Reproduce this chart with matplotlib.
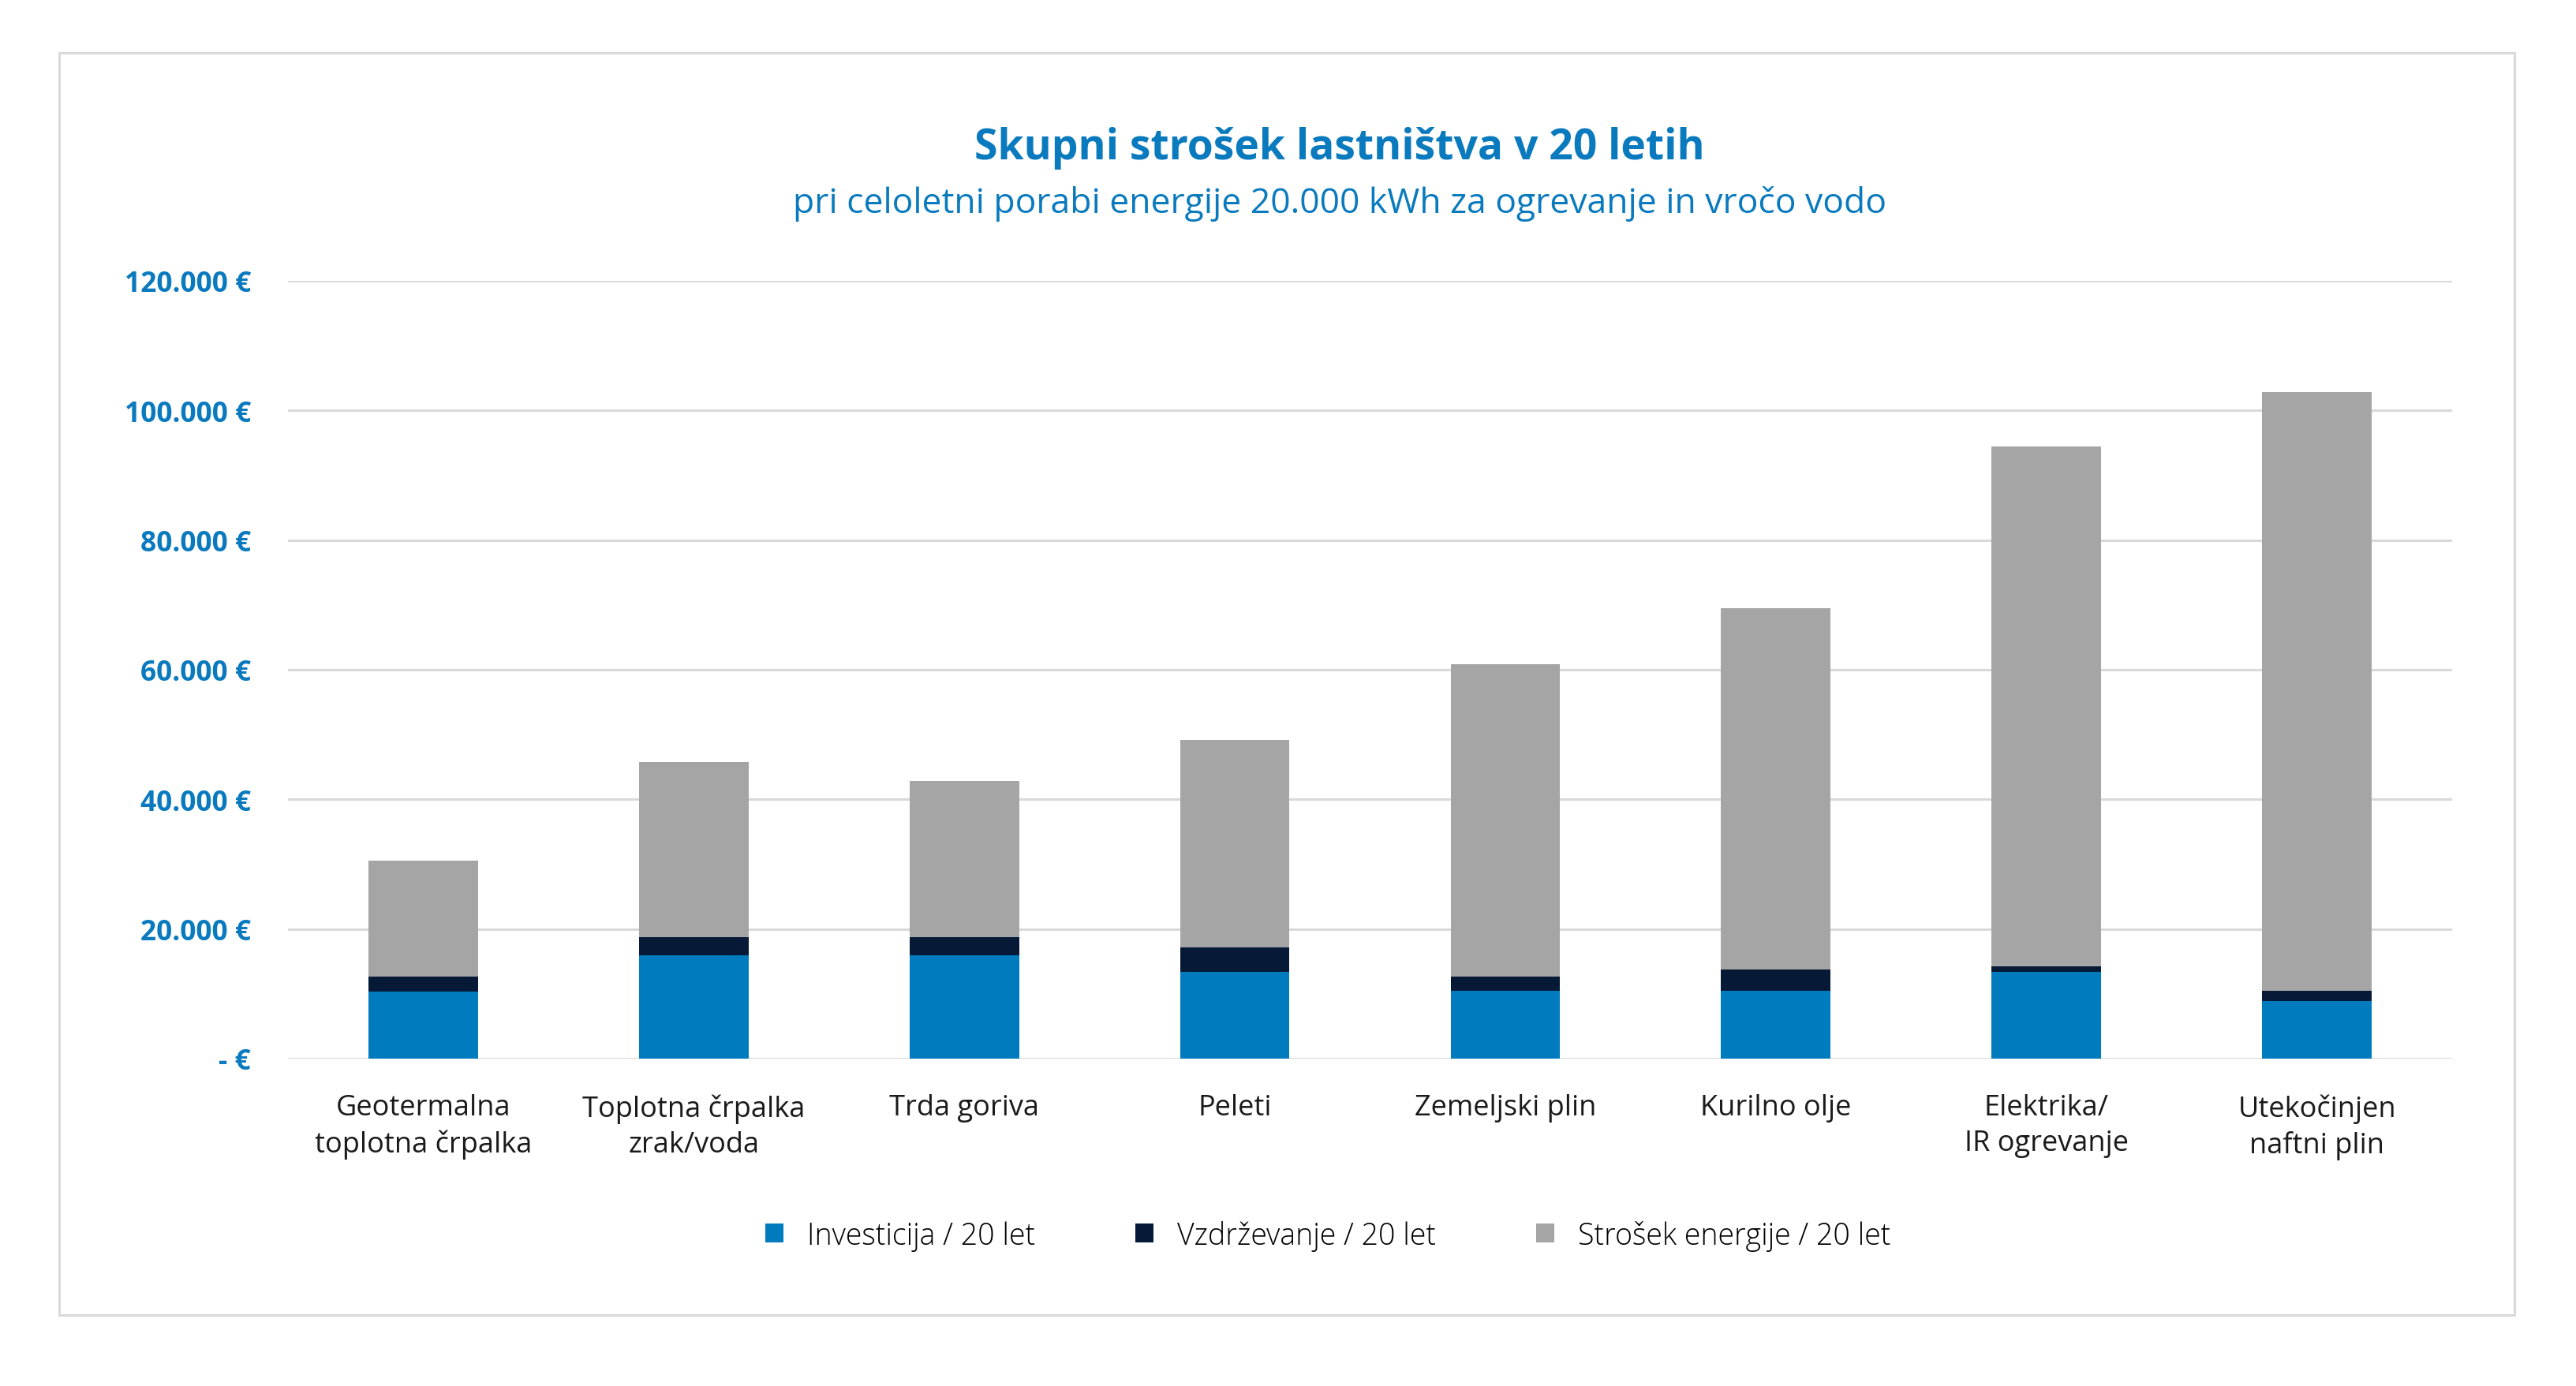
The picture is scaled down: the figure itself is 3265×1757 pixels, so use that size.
import matplotlib.pyplot as plt
from matplotlib.patches import Rectangle
import numpy as np

plt.rcParams['font.family'] = ['Open Sans', 'DejaVu Sans']

categories = ['Geotermalna\ntoplotna črpalka', 'Toplotna črpalka\nzrak/voda', 'Trda goriva',
              'Peleti', 'Zemeljski plin', 'Kurilno olje', 'Elektrika/\nIR ogrevanje',
              'Utekočinjen\nnaftni plin']
investicija = [10400, 15900, 15900, 13400, 10500, 10500, 13400, 8850]
vzdrzevanje = [2200, 2900, 2900, 3700, 2100, 3300, 800, 1650]
energija = [17900, 27000, 24100, 32100, 48200, 55700, 80300, 92300]
series_names = ['Investicija / 20 let', 'Vzdrževanje / 20 let', 'Strošek energije / 20 let']
y_ticks = [0, 20000, 40000, 60000, 80000, 100000, 120000]

c_blue = '#007BBD'
c_navy = '#061A38'
c_gray = '#A5A5A5'
c_grid = '#D9D9D9'
c_text = '#0A7ABF'

W, H = 3265, 1758
fig = plt.figure(figsize=(W / 100, H / 100), dpi=100)
fig.patch.set_facecolor('white')

# outer frame
fig.add_artist(Rectangle((75 / W, 1 - 1668 / H), (3187 - 75) / W, (1668 - 68) / H,
                         transform=fig.transFigure, fill=False, edgecolor=c_grid, linewidth=2.2))

ax = fig.add_axes([365 / W, 1 - 1343 / H, (3108 - 365) / W, (1343 - 357) / H])
x = np.arange(len(categories))
inv = np.array(investicija)
vz = np.array(vzdrzevanje)
en = np.array(energija)
bw = 0.405
ax.bar(x, inv, bw, color=c_blue, label=series_names[0], zorder=3)
ax.bar(x, vz, bw, bottom=inv, color=c_navy, label=series_names[1], zorder=3)
ax.bar(x, en, bw, bottom=inv + vz, color=c_gray, label=series_names[2], zorder=3)

ax.set_xlim(-0.5, len(categories) - 0.5)
ax.set_ylim(0, 120000)
ax.set_yticks(y_ticks)
ax.set_yticklabels(['- €' if v == 0 else f'{v:,.0f} €'.replace(',', '.') for v in y_ticks],
                   color=c_text, fontweight='bold', fontsize=25.5)
ax.set_xticks(x)
ax.set_xticklabels(categories, fontsize=26, color='#1a1a1a', linespacing=1.32)
ax.tick_params(axis='y', length=0, pad=34)
ax.tick_params(axis='x', length=0, pad=32)
ax.grid(axis='y', color=c_grid, linewidth=2.2, zorder=0)
for s in ax.spines.values():
    s.set_visible(False)

fig.text(0.52, 1 - 188 / H, 'Skupni strošek lastništva v 20 letih', ha='center', va='center',
         color=c_text, fontsize=38.5, fontweight='bold')
fig.text(0.52, 1 - 259 / H, 'pri celoletni porabi energije 20.000 kWh za ogrevanje in vročo vodo',
         ha='center', va='center', color=c_text, fontsize=32)

fig.legend(loc='center', bbox_to_anchor=(0.5155, 1 - 1567 / H), ncol=3, frameon=False,
           handlelength=0.6, handleheight=0.6, handletextpad=0.8,
           columnspacing=3.4, prop={'size': 27, 'weight': 'light'})

fig.savefig('out.png', dpi=100, facecolor='white')
